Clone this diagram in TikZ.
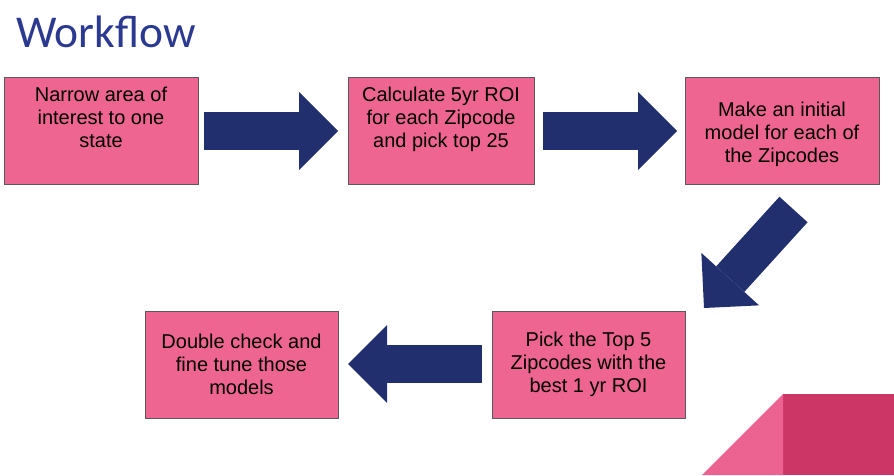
\documentclass[tikz,border=0pt]{standalone}
\usepackage{fontspec}
\setmainfont{Liberation Sans}
\newfontfamily\titlefont{Carlito}
\usepackage{xcolor}
\usepackage{tikz}
\usetikzlibrary{positioning}
\usetikzlibrary{arrows.meta}
\definecolor{boxpink}{RGB}{239,101,146}
\definecolor{edgegray}{RGB}{89,89,89}
\definecolor{arrownavy}{RGB}{34,47,110}
\definecolor{titleblue}{RGB}{43,57,144}
\definecolor{cornerpink}{RGB}{236,99,145}
\definecolor{cornerred}{RGB}{204,54,102}
\tikzstyle{stepbox} = [rectangle, draw=edgegray, line width=0.9pt, fill=boxpink, minimum height=107pt, inner sep=0pt, align=center, font=\fontsize{20}{23}\selectfont]
\tikzstyle{steptext} = [inner sep=0pt, align=center, font=\fontsize{20}{23}\selectfont]
\tikzstyle{fatarrow} = [draw=arrownavy, line width=38pt, -{Triangle[length=39pt, width=78pt, line width=0pt]}]

\begin{document}
\begin{tikzpicture}[x=1pt,y=1pt]
\useasboundingbox (0,0) rectangle (894,475);
% corner decoration
\fill [cornerred] (783,81) rectangle (894,0);
\fill [cornerpink] (783,81) -- (702,0) -- (783,0) -- cycle;
% title
\node (title) [anchor=base west, inner sep=0pt, text=titleblue, font=\titlefont\fontsize{45.5}{50}\selectfont] at (16,427) {Workflow};
% steps
\node (b1) [stepbox, minimum width=194pt] at (101,344.5) {};
\node (b2) [stepbox, minimum width=186pt] at (441,344.5) {};
\node (b3) [stepbox, minimum width=194pt] at (782,344.5) {};
\node (b4) [stepbox, minimum width=193pt] at (588.5,110.5) {Pick the Top 5\\Zipcodes with the\\best 1 yr ROI};
\node (b5) [stepbox, minimum width=193pt] at (241.5,110.5) {Double check and\\fine tune those\\models};
\node (t1) [steptext, below=10pt of b1.north] {Narrow area of\\interest to one\\state};
\node (t2) [steptext, below=10pt of b2.north] {Calculate 5yr ROI\\for each Zipcode\\and pick top 25};
\node (t3) [steptext, below=25pt of b3.north] {Make an initial\\model for each of\\the Zipcodes};
% arrow ends
\coordinate (a1s) at (204,344);
\coordinate (a1e) at (338,344);
\coordinate (a2s) at (543,344);
\coordinate (a2e) at (677,344);
\coordinate (a3s) at (793.5,265.5);
\coordinate (a3e) at (704,167);
\coordinate (a4s) at (482,111);
\coordinate (a4e) at (348,111);
\draw [fatarrow] (a1s)--(a1e);
\draw [fatarrow] (a2s)--(a2e);
\draw [fatarrow] (a3s)--(a3e);
\draw [fatarrow] (a4s)--(a4e);
\end{tikzpicture}
\end{document}
